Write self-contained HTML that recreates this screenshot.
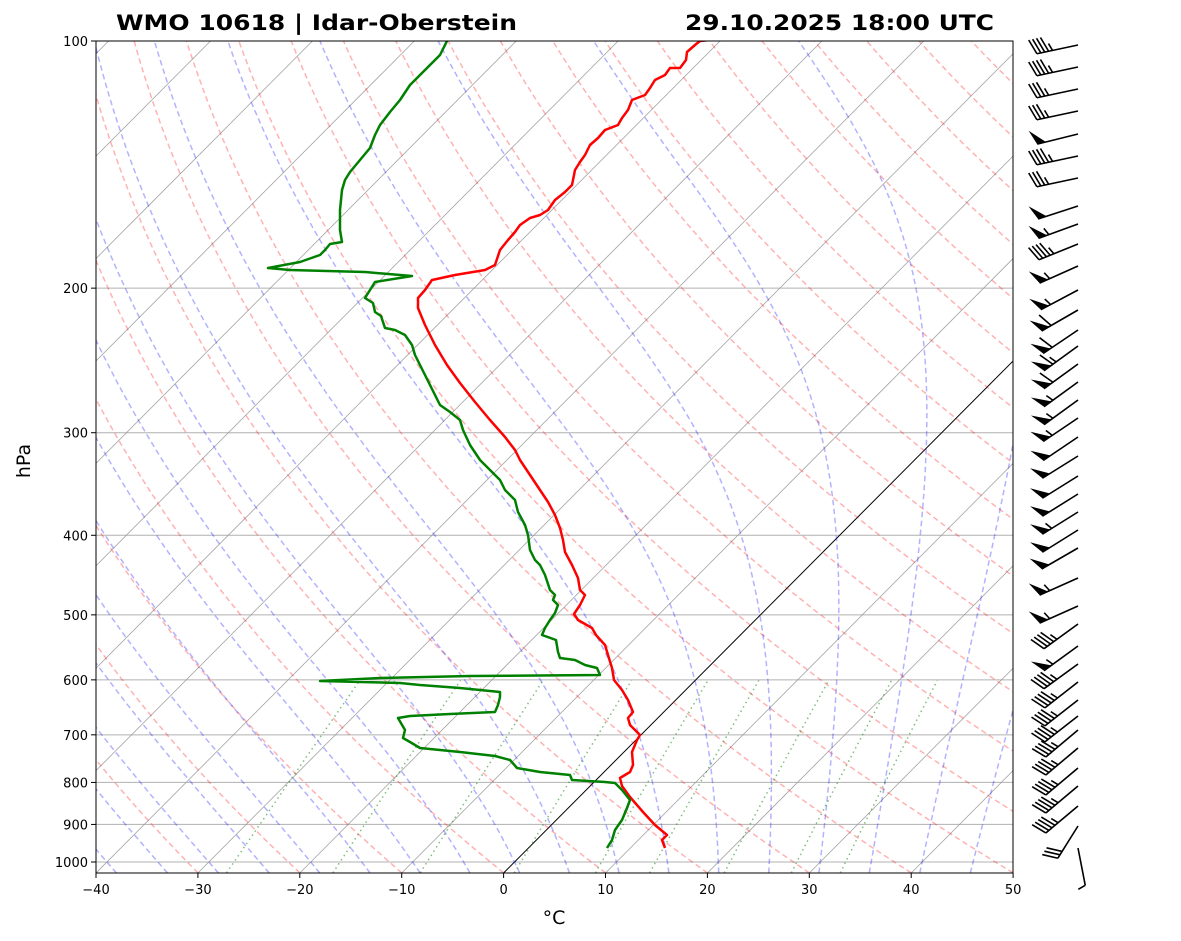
<!DOCTYPE html>
<html><head><meta charset="utf-8"><style>
body{margin:0;background:#fff;}
svg{display:block;font-family:"DejaVu Sans","Liberation Sans",sans-serif;}
</style></head><body>
<svg id="s" width="1181" height="941" xmlns="http://www.w3.org/2000/svg">
<defs><clipPath id="c"><rect x="96" y="41" width="917" height="832"/></clipPath></defs>
<g id="bg" clip-path="url(#c)"></g>
<g id="fg"></g>
</svg>
<script>
const NS="http://www.w3.org/2000/svg";
const bg=document.getElementById('bg'),fg=document.getElementById('fg');
function el(p,tag,a,txt){const e=document.createElementNS(NS,tag);for(const k in a)e.setAttribute(k,a[k]);if(txt!==undefined)e.textContent=txt;p.appendChild(e);return e;}
const L0=Math.log(100),L1=Math.log(1000);
function Y(p){return 41+(Math.log(p)-L0)/(L1-L0)*821;}
function X(T,y){return 96+(T+40)*10.19+(873-y)*0.995;}
const PB=1031;
function pts(arr){return arr.map(a=>a[0].toFixed(1)+','+a[1].toFixed(1)).join(' ');}
function prange(p0){const r=[];for(let i=0;i<=120;i++){r.push(p0*Math.pow(100/p0,i/120));}return r;}
const P=prange(PB);
for(let p=200;p<=1000;p+=100){el(bg,'line',{x1:96,x2:1013,y1:Y(p),y2:Y(p),stroke:'#b0b0b0','stroke-width':1});}
for(let T=-140;T<=50;T+=10){if(T===0)continue;el(bg,'line',{x1:X(T,873),y1:873,x2:X(T,41),y2:41,stroke:'#999','stroke-width':0.8,'stroke-opacity':0.9});}
el(bg,'line',{x1:X(0,873),y1:873,x2:X(0,41),y2:41,stroke:'#000','stroke-width':1});
for(let t0=-30;t0<=200;t0+=10){const th=t0+273.15;const a=P.map(p=>{const T=th*Math.pow(p/PB,0.2857)-273.15;const y=Y(p);return[X(T,y),y];});
el(bg,'polyline',{points:pts(a),fill:'none',stroke:'#ff0000','stroke-opacity':0.3,'stroke-width':1.5,'stroke-dasharray':'5.5,3.5'});}
function es(T){return 6.112*Math.exp(17.67*T/(T+243.5));}
function dTdp(p,Tk){const Rd=287.04,Cp=1005.7,Lv=2.501e6,eps=0.622;const e=es(Tk-273.15);const rs=eps*e/(p-e);return (1/p)*(Rd*Tk+Lv*rs)/(Cp+Lv*Lv*rs*eps/(Rd*Tk*Tk));}
function integ(p0,p1,T0){let Tk=T0+273.15;const n=60;const out=[[p0,Tk]];for(let i=0;i<n;i++){const pa=p0*Math.pow(p1/p0,i/n),pb=p0*Math.pow(p1/p0,(i+1)/n);const dp=pb-pa;const k1=dTdp(pa,Tk);const k2=dTdp(pa+dp/2,Tk+k1*dp/2);const k3=dTdp(pa+dp/2,Tk+k2*dp/2);const k4=dTdp(pb,Tk+k3*dp);Tk+=dp*(k1+2*k2+2*k3+k4)/6;out.push([pb,Tk]);}return out;}
for(let t0=-40;t0<=45;t0+=5){const up=integ(1000,100,t0),dn=integ(1000,PB,t0);const all=dn.reverse().concat(up.slice(1));
const a=all.map(q=>{const y=Y(q[0]);return[X(q[1]-273.15,y),y];});
el(bg,'polyline',{points:pts(a),fill:'none',stroke:'#0000ff','stroke-opacity':0.3,'stroke-width':1.5,'stroke-dasharray':'5.5,3.5'});}
const W=[0.0004,0.001,0.002,0.004,0.007,0.01,0.016,0.024,0.032];
for(const w of W){const a=[];for(let p=PB;p>=600;p-=10){const e=p*w/(0.622+w);const l=Math.log(e/6.112);const T=243.5*l/(17.67-l);const y=Y(p);a.push([X(T,y),y]);}
el(bg,'polyline',{points:pts(a),fill:'none',stroke:'#008000','stroke-opacity':0.5,'stroke-width':1.5,'stroke-dasharray':'1.5,3.5'});}
const red=[[665,848],[662,840],[667,835],[655,825],[643,812],[630,797],[622,786],[620,778],[630,772],[633,765],[632,752],[637,740],[640,735],[630,725],[628,718],[633,712],[628,700],[622,690],[614,680],[612,668],[608,655],[605,645],[596,635],[592,628],[578,620],[574,614],[580,605],[585,595],[580,590],[578,578],[572,565],[565,552],[563,540],[560,528],[555,515],[548,502],[540,490],[530,475],[520,460],[515,450],[505,437],[490,420],[475,402],[460,383],[447,365],[435,345],[425,325],[418,308],[418,298],[425,290],[432,280],[455,275],[485,270],[495,265],[500,250],[508,240],[515,232],[520,225],[530,218],[540,215],[548,210],[555,200],[565,192],[572,185],[575,170],[580,162],[585,155],[590,145],[598,138],[605,130],[618,125],[622,118],[628,110],[632,100],[645,95],[650,88],[655,80],[665,75],[670,68],[680,68],[686,60],[687,52],[695,45],[700,41],[710,40]];
const grn=[[607,848],[612,840],[615,830],[622,820],[627,808],[630,800],[622,790],[615,783],[605,782],[572,780],[570,775],[540,772],[517,768],[510,760],[495,756],[460,752],[420,748],[410,742],[403,738],[405,730],[398,718],[410,716],[450,714],[495,712],[498,705],[500,697],[500,692],[460,688],[420,685],[400,683],[320,681],[380,678],[470,676],[600,675],[597,668],[585,665],[575,660],[560,658],[558,652],[556,640],[542,635],[545,628],[550,620],[555,613],[558,605],[553,600],[555,595],[550,590],[545,575],[540,565],[535,560],[530,550],[528,535],[525,525],[518,512],[515,500],[505,490],[500,480],[490,470],[480,460],[470,445],[463,430],[460,420],[450,412],[440,405],[435,395],[430,385],[425,375],[420,365],[415,355],[412,345],[405,335],[395,330],[385,328],[381,316],[375,312],[373,303],[365,298],[370,290],[375,282],[412,276],[365,272],[290,270],[268,268],[300,262],[320,255],[325,250],[330,244],[342,242],[340,230],[340,210],[342,190],[345,180],[350,172],[360,160],[370,148],[375,135],[380,125],[390,112],[400,100],[410,85],[420,75],[430,65],[440,55],[447,41]];
el(bg,'polyline',{points:pts(red),fill:'none',stroke:'#ff0000','stroke-width':2.5,'stroke-linejoin':'round'});
el(bg,'polyline',{points:pts(grn),fill:'none',stroke:'#008000','stroke-width':2.5,'stroke-linejoin':'round'});
el(fg,'rect',{x:96,y:41,width:917,height:832,fill:'none',stroke:'#000','stroke-width':1});
for(let T=-40;T<=50;T+=10){const x=96+(T+40)*10.19;el(fg,'line',{x1:x,x2:x,y1:873,y2:878,stroke:'#000'});el(fg,'text',{x:x,y:894,'font-size':13,'text-anchor':'middle'},(T<0?'\u2212'+(-T):''+T));}
for(let p=100;p<=1000;p+=100){const y=Y(p);el(fg,'line',{x1:91,x2:96,y1:y,y2:y,stroke:'#000'});el(fg,'text',{x:88,y:y+5,'font-size':13,'text-anchor':'end'},''+p);}
el(fg,'text',{x:554,y:924,'font-size':19,'text-anchor':'middle'},'°C');
el(fg,'text',{x:30,y:461,'font-size':19,'text-anchor':'middle',transform:'rotate(-90 30 461)'},'hPa');
el(fg,'text',{x:116,y:30,'font-size':21,'font-weight':'bold',textLength:401,lengthAdjust:'spacingAndGlyphs'},'WMO 10618 | Idar-Oberstein');
el(fg,'text',{x:685,y:30,'font-size':21,'font-weight':'bold',textLength:309,lengthAdjust:'spacingAndGlyphs'},'29.10.2025 18:00 UTC');
const B=[[45,12,0,4,1],[67,12,0,4,1],[89,12,0,3,1],[111,12,0,3,1],[134,14,1,0,0],[156,12,0,4,1],[178,12,0,3,1],[206,18,1,0,0],[224,20,1,0,1],[244,22,0,4,1],[266,24,1,0,1],[290,28,1,0,1],[310,30,1,1,0],[330,34,1,1,0],[346,36,1,1,1],[364,36,1,1,0],[382,36,1,0,1],[400,36,1,0,1],[418,34,1,0,1],[437,34,1,0,0],[456,32,1,0,0],[476,32,1,0,0],[494,32,1,0,0],[512,32,1,0,1],[530,32,1,0,0],[548,30,1,0,0],[578,24,1,0,1],[606,24,1,0,1],[624,36,0,4,1],[646,36,1,0,1],[664,36,0,4,1],[682,38,0,4,1],[700,38,0,4,1],[716,38,0,4,1],[730,40,0,4,1],[748,40,0,4,1],[768,40,0,4,1],[786,40,0,4,1],[806,40,0,4,1]];
function barb(tx,ty,ang,fl,fu,ha,len){const a=ang*Math.PI/180;const dx=Math.cos(a),dy=-Math.sin(a);const sx=tx-len*dx,sy=ty-len*dy;
el(fg,'line',{x1:sx,y1:sy,x2:tx,y2:ty,stroke:'#000','stroke-width':1.6});
const ba=Math.atan2(dy,dx)-1.9;const bx=Math.cos(ba)*16,by=Math.sin(ba)*16;let d=0;
for(let i=0;i<fl;i++){const p1=[sx+dx*d,sy+dy*d],p2=[sx+dx*(d+9),sy+dy*(d+9)];el(fg,'polygon',{points:pts([p1,[p1[0]+bx,p1[1]+by],p2]),fill:'#000'});d+=11;}
for(let i=0;i<fu;i++){const p=[sx+dx*d,sy+dy*d];el(fg,'line',{x1:p[0],y1:p[1],x2:p[0]+bx,y2:p[1]+by,stroke:'#000','stroke-width':1.6});d+=4;}
for(let i=0;i<ha;i++){const p=[sx+dx*d,sy+dy*d];el(fg,'line',{x1:p[0],y1:p[1],x2:p[0]+bx/2,y2:p[1]+by/2,stroke:'#000','stroke-width':1.6});}}
for(const b of B)barb(1078,b[0],b[1],b[2],b[3],b[4],42);
barb(1078,826,58,0,3,0,38);
barb(1078,848,101,0,0,1,38);
</script>
</body></html>
